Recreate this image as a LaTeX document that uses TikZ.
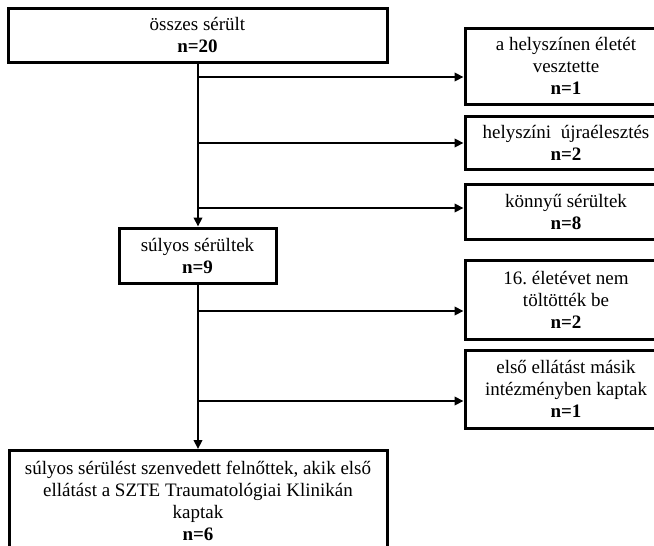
\documentclass[tikz,border=0pt]{standalone}
\usepackage{fontspec}
\setmainfont{Liberation Serif}
\usetikzlibrary{arrows.meta}
\frenchspacing
\begin{document}
\begin{tikzpicture}[x=1pt,y=-1pt,
  box/.style={draw=black,line width=3pt,align=center,inner sep=0pt,
    font=\fontsize{19}{22}\selectfont},
  conn/.style={line width=2.6pt,-{Triangle[length=9pt,width=8.5pt]}}]
\useasboundingbox (0,0) rectangle (654,546);
\node[box,minimum width=379pt,minimum height=54pt] (top) at (197.5,35) {összes sérült\\\textbf{n=20}};
\node[box,minimum width=202pt,minimum height=76pt] (r1) at (566,66) {a helyszínen életét\\vesztette\\\textbf{n=1}};
\node[box,minimum width=202pt,minimum height=53pt] (r2) at (566,142.5) {helyszíni\ \ újraélesztés\\\textbf{n=2}};
\node[box,minimum width=202pt,minimum height=55pt] (r3) at (566,211.5) {könnyű sérültek\\\textbf{n=8}};
\node[box,minimum width=157pt,minimum height=55pt] (mid) at (197.5,255.5) {súlyos sérültek\\\textbf{n=9}};
\node[box,minimum width=202pt,minimum height=79pt] (r4) at (566,299.5) {16. életévet nem\\töltötték be\\\textbf{n=2}};
\node[box,minimum width=202pt,minimum height=78pt] (r5) at (566,389) {első ellátást másik\\intézményben kaptak\\\textbf{n=1}};
\node[box,minimum width=378pt,inner ysep=11pt,anchor=north] (bot) at (198,449) {súlyos sérülést szenvedett felnőttek, akik első\\ellátást a SZTE Traumatológiai Klinikán\\kaptak\\\textbf{n=6}};
\coordinate (b1) at (198,77);
\coordinate (b2) at (198,143);
\coordinate (b3) at (198,208);
\coordinate (b4) at (198,311);
\coordinate (b5) at (198,401);
\draw[conn] (top.south -| b1) -- (mid.north -| b1);
\draw[conn] (mid.south -| b4) -- (bot.north -| b4);
\draw[conn] (b1) -- (b1 -| r1.west);
\draw[conn] (b2) -- (b2 -| r2.west);
\draw[conn] (b3) -- (b3 -| r3.west);
\draw[conn] (b4) -- (b4 -| r4.west);
\draw[conn] (b5) -- (b5 -| r5.west);
\end{tikzpicture}
\end{document}
